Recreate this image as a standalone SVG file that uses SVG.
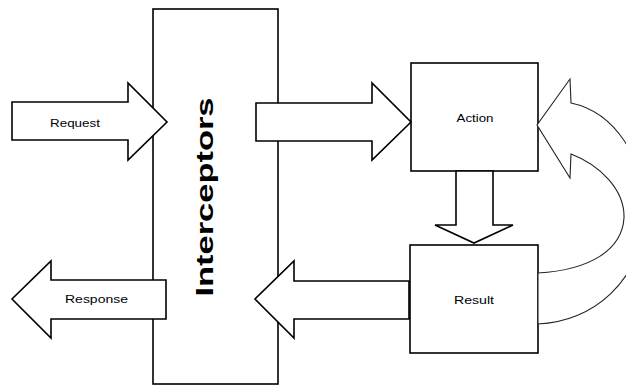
<svg xmlns="http://www.w3.org/2000/svg" width="626" height="387" viewBox="0 0 626 387">
  <style>
    .box { fill: #fff; stroke: #000; stroke-width: 1.6; }
    .arrow { fill: #fff; stroke: #000; stroke-width: 1.6; stroke-linejoin: miter; }
    .loop { fill: #fff; stroke: #222; stroke-width: 1.1; }
    .lbl { font-family: "Liberation Sans", Arial, sans-serif; font-size: 11.5px; fill: #000; }
    .title { font-family: "Liberation Sans", Arial, sans-serif; font-size: 24px; font-weight: bold; fill: #000; }
  </style>

  <rect width="626" height="387" fill="#fff"/>

  <!-- Interceptor stack -->
  <g id="interceptors">
    <rect class="box" x="153" y="9" width="125" height="375"/>
    <text class="title" transform="translate(213,197) rotate(-90)" text-anchor="middle" textLength="199" lengthAdjust="spacingAndGlyphs">Interceptors</text>
  </g>

  <!-- Action -->
  <g id="action">
    <rect class="box" x="411" y="63" width="127" height="108"/>
    <text class="lbl" x="475" y="122" text-anchor="middle" textLength="37" lengthAdjust="spacingAndGlyphs">Action</text>
  </g>

  <!-- Result -->
  <g id="result">
    <rect class="box" x="410" y="245" width="128" height="108"/>
    <text class="lbl" x="474" y="304" text-anchor="middle" textLength="40" lengthAdjust="spacingAndGlyphs">Result</text>
  </g>

  <!-- Block arrows between the parts -->
  <g id="connectors">
    <!-- incoming request -->
    <g id="request">
      <polygon class="arrow" points="12,102 128,102 128,83 167,122 128,160 128,140 12,140"/>
      <text class="lbl" x="75" y="127" text-anchor="middle" textLength="50" lengthAdjust="spacingAndGlyphs">Request</text>
    </g>
    <!-- outgoing response -->
    <g id="response">
      <polygon class="arrow" points="166,280 51,280 51,261 12,299 51,338 51,319 166,319"/>
      <text class="lbl" x="96.5" y="303" text-anchor="middle" textLength="63" lengthAdjust="spacingAndGlyphs">Response</text>
    </g>
    <!-- interceptors to action -->
    <polygon class="arrow" points="256,103 372,103 372,83 411,122 372,160 372,141 256,141"/>
    <!-- action to result -->
    <polygon class="arrow" points="456,171 493,171 493,225 513,225 474,243 435,225 456,225"/>
    <!-- result back through interceptors -->
    <polygon class="arrow" points="409,281 294,281 294,261 255,299 294,338 294,319 409,319"/>
    <!-- curved loop from result back to action -->
    <path class="loop" d="M538,324 C592,322 642,282 644,215 C646,158 614,112 571,103 L570,79 L537,125 L570,178 L571,154 C600,165 625,190 624,218 C622,250 590,270 538,273 Z"/>
  </g>
</svg>
